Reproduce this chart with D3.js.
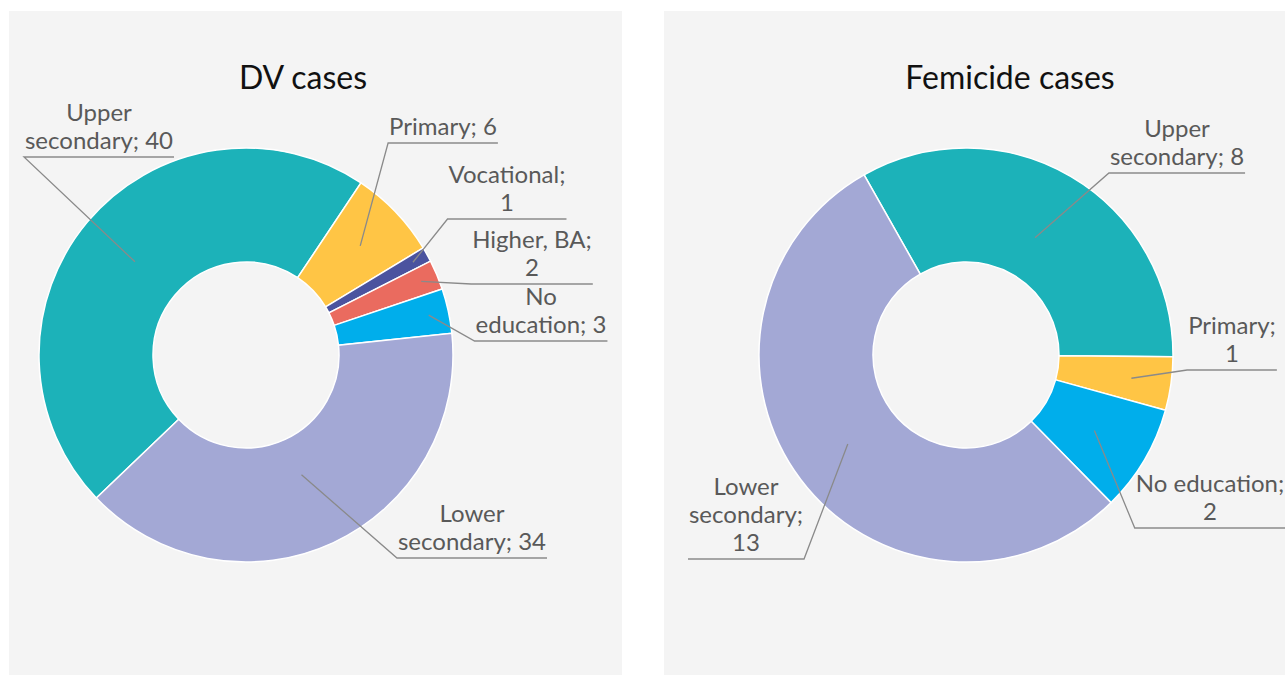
<!DOCTYPE html>
<html>
<head>
<meta charset="utf-8">
<script src="https://cdn.jsdelivr.net/npm/d3@7"></script>
<style>
    body { margin: 0; background: #fff; }
    text { font-family: Lato, "Open Sans", sans-serif; }
</style>
</head>
<body>
<svg id="chart" width="1285" height="675"></svg>
<script>
// data
var dvCategories = ["Upper secondary", "Primary", "Vocational", "Higher, BA", "No education", "Lower secondary"];
var dvValues = [40, 6, 1, 2, 3, 34];

var femCategories = ["Upper secondary", "Primary", "No education", "Lower secondary"];
var femValues = [8, 1, 2, 13];

var colours = {
    "Upper secondary": "#1cb2b9",
    "Primary": "#ffc545",
    "Vocational": "#4b539f",
    "Higher, BA": "#ea6b5f",
    "No education": "#00aeeb",
    "Lower secondary": "#a3a8d5"
};

// label layout: centre x, first baseline y, words per line, elbow side, leader radius
var dvLabels = [
    { x: 99,  y: 121, wrap: [1, 2], side: "left", r: 145 },
    { x: 443, y: 135, wrap: [2],    side: "left", r: 158 },
    { x: 507, y: 183, wrap: [1, 1], side: "left", r: 191 },
    { x: 532, y: 248, wrap: [2, 1], side: "left", r: 190 },
    { x: 541, y: 305, wrap: [1, 2], side: "left", r: 187 },
    { x: 472, y: 522, wrap: [1, 2], side: "left", r: 132 }
];
var femLabels = [
    { x: 1177, y: 137, wrap: [1, 2],    side: "left",  r: 136 },
    { x: 1232, y: 334, wrap: [1, 1],    side: "left",  r: 167 },
    { x: 1210, y: 492, wrap: [2, 1],    side: "left",  r: 149 },
    { x: 746,  y: 495, wrap: [1, 1, 1], side: "right", r: 148 }
];

var svg = d3.select("#chart");

// grey panels
svg.append("rect").attr("x", 9).attr("y", 11).attr("width", 613).attr("height", 670).attr("fill", "#f4f4f4");
svg.append("rect").attr("x", 664).attr("y", 11).attr("width", 630).attr("height", 670).attr("fill", "#f4f4f4");

function drawDonut(opts) {
    var g = svg.append("g");

    g.append("text")
        .attr("x", opts.titleX)
        .attr("y", 89)
        .attr("text-anchor", "middle")
        .attr("font-size", 32)
        .attr("fill", "#111")
        .text(opts.title);

    var rows = opts.categories.map(function(c, i) {
        return { cat: c, value: opts.values[i], lab: opts.labels[i] };
    });

    var start = opts.startDeg * Math.PI / 180;
    var pie = d3.pie()
        .sort(null)
        .value(function(d) { return d.value; })
        .startAngle(start)
        .endAngle(start + 2 * Math.PI);

    var arc = d3.arc().innerRadius(93).outerRadius(207);

    var pg = g.append("g").attr("transform", "translate(" + opts.cx + "," + opts.cy + ")");
    var arcs = pie(rows);

    pg.selectAll("path")
        .data(arcs)
        .enter().append("path")
        .attr("d", arc)
        .attr("fill", function(d) { return colours[d.data.cat]; })
        .attr("stroke", "#fff")
        .attr("stroke-width", 1.5);

    arcs.forEach(function(d) {
        var lab = d.data.lab;
        var words = (d.data.cat + "; " + d.data.value).split(" ");
        var lines = [], k = 0;
        lab.wrap.forEach(function(n) {
            lines.push(words.slice(k, k + n).join(" "));
            k += n;
        });

        var t = g.append("text")
            .attr("text-anchor", "middle")
            .attr("font-size", 24)
            .attr("fill", "#595959");
        lines.forEach(function(s, i) {
            t.append("tspan").attr("x", lab.x).attr("y", lab.y + i * 28).text(s);
        });

        var w = 0;
        t.selectAll("tspan").each(function() { w = Math.max(w, this.getComputedTextLength()); });
        var ly = lab.y + (lines.length - 1) * 28 + 8;
        var x0 = lab.x - w / 2 - 1, x1 = lab.x + w / 2 + 1;
        var c = d3.arc().innerRadius(lab.r).outerRadius(lab.r).centroid(d);
        var ex = lab.side === "left" ? x0 : x1;

        g.append("polyline")
            .attr("points", [[opts.cx + c[0], opts.cy + c[1]], [ex, ly], [lab.side === "left" ? x1 : x0, ly]].join(" "))
            .attr("fill", "none")
            .attr("stroke", "#8a8a8a")
            .attr("stroke-width", 1.3);
    });
}

drawDonut({
    title: "DV cases", titleX: 303,
    categories: dvCategories, values: dvValues, labels: dvLabels,
    cx: 246, cy: 355, startDeg: -133.7
});

drawDonut({
    title: "Femicide cases", titleX: 1010,
    categories: femCategories, values: femValues, labels: femLabels,
    cx: 966, cy: 355, startDeg: -29.5
});
</script>
</body>
</html>
